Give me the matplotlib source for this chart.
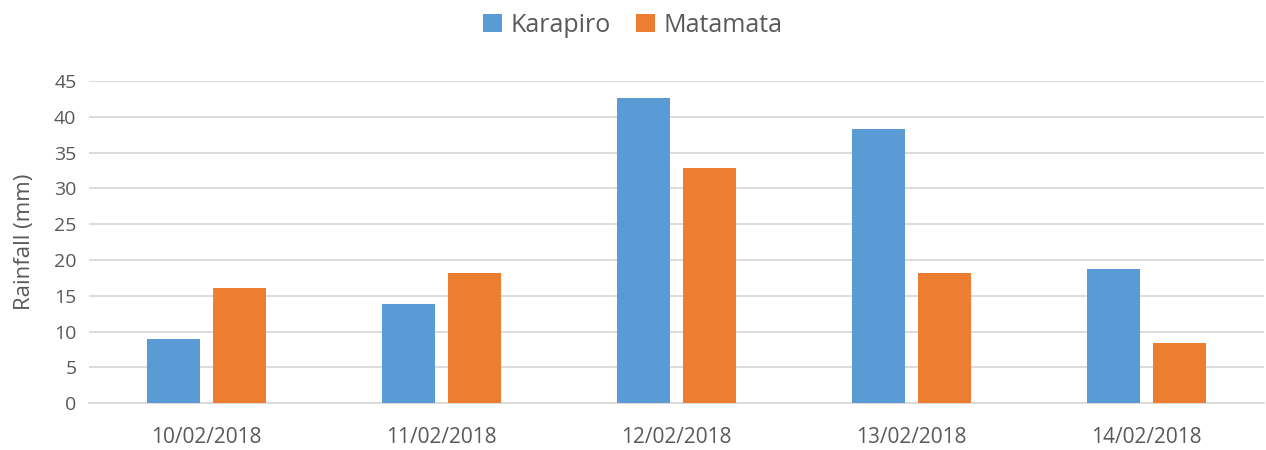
import numpy as np
import matplotlib
matplotlib.use("Agg")
import matplotlib.pyplot as plt

plt.rcParams['font.family'] = ['Open Sans', 'DejaVu Sans']

dates = ['10/02/2018', '11/02/2018', '12/02/2018', '13/02/2018', '14/02/2018']
karapiro = [8.9, 13.8, 42.6, 38.3, 18.7]
matamata = [16.1, 18.2, 32.9, 18.2, 8.4]

text_col = '#595959'
fig = plt.figure(figsize=(12.66, 4.5), dpi=100)
ax = fig.add_axes([0.0703, 0.104, 0.928, 0.716])

x = np.arange(len(dates))
w = 0.226
ax.bar(x - w / 2 - 0.028, karapiro, w, color='#5B9BD5', label='Karapiro', zorder=3)
ax.bar(x + w / 2 + 0.028, matamata, w, color='#ED7D31', label='Matamata', zorder=3)

ax.set_xlim(-0.5, 4.5)
ax.set_ylim(0, 45)
ax.set_yticks(range(0, 46, 5))
ax.set_xticks(x)
ax.set_xticklabels(dates)
ax.grid(axis='y', color='#D9D9D9', linewidth=1.3, zorder=0)
for s in ['top', 'right', 'left']:
    ax.spines[s].set_visible(False)
ax.spines['bottom'].set_color('#D9D9D9')
ax.spines['bottom'].set_linewidth(1.3)
ax.tick_params(axis='y', length=0, labelsize=14, colors=text_col, pad=9)
ax.tick_params(axis='x', length=0, labelsize=15, colors=text_col, pad=17)
ax.set_ylabel('Rainfall (mm)', fontsize=16, color=text_col, labelpad=14)

fig.legend(loc='upper center', bbox_to_anchor=(0.5, 1.022), ncol=2, frameon=False,
           fontsize=18, labelcolor=text_col, handlelength=0.75, handleheight=0.75,
           columnspacing=1.0, handletextpad=0.35)

fig.savefig('out.png', dpi=100)
